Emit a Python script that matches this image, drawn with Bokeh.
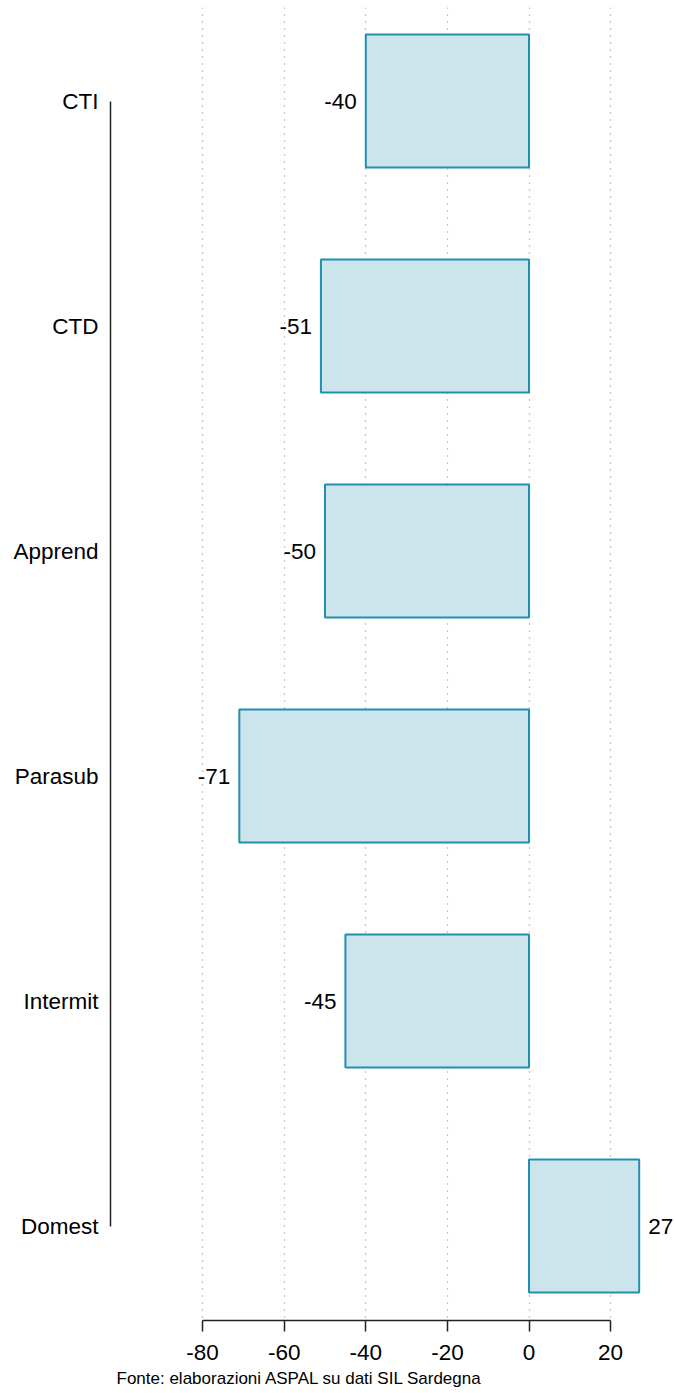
from bokeh.plotting import figure
from bokeh.models import Range1d, FixedTicker, ColumnDataSource, Title
from bokeh.embed import file_html
from bokeh.resources import INLINE
from bokeh.core.properties import value

# ---- data ----
categories = ["CTI", "CTD", "Apprend", "Parasub", "Intermit", "Domest"]
values = [-40, -51, -50, -71, -45, 27]
x_ticks = [-80, -60, -40, -20, 0, 20]
caption = "Fonte: elaborazioni ASPAL su dati SIL Sardegna"

FONT = "Liberation Sans"
positions = list(range(len(categories)))

p = figure(
    width=675, height=1393,
    output_backend="svg", toolbar_location=None,
    x_range=Range1d(-102.57, 35.9),
    y_range=Range1d(5.42, -0.4156),
    min_border_left=110, min_border_right=0,
    min_border_top=7, min_border_bottom=73,
)
p.outline_line_color = None
p.background_fill_color = "white"
p.border_fill_color = "white"

# grid
p.ygrid.visible = False
p.xgrid.ticker = FixedTicker(ticks=x_ticks)
p.xgrid.grid_line_color = "#8f8f8f"
p.xgrid.grid_line_dash = "1 6"
p.xgrid.grid_line_width = 1.3

# bars
bars = ColumnDataSource(dict(y=positions, right=values))
p.hbar(y="y", left=0, right="right", height=0.591, source=bars,
       fill_color="#CCE5EC", line_color="#2190AE", line_width=2)

# value labels
neg = ColumnDataSource(dict(
    x=[v for v in values if v < 0],
    y=[i for i, v in zip(positions, values) if v < 0],
    t=[str(v) for v in values if v < 0]))
pos = ColumnDataSource(dict(
    x=[v for v in values if v >= 0],
    y=[i for i, v in zip(positions, values) if v >= 0],
    t=[str(v) for v in values if v >= 0]))
p.text(x="x", y="y", text="t", source=neg, text_align="right", text_baseline="middle",
       x_offset=-9, text_font=value(FONT), text_font_size="22.5px", text_color="black")
p.text(x="x", y="y", text="t", source=pos, text_align="left", text_baseline="middle",
       x_offset=9, text_font=value(FONT), text_font_size="22.5px", text_color="black")

# x axis
xa = p.xaxis[0]
xa.ticker = FixedTicker(ticks=x_ticks)
xa.major_label_overrides = {t: str(t) for t in x_ticks}
xa.bounds = (x_ticks[0], x_ticks[-1])
xa.axis_line_color = "#222222"
xa.axis_line_width = 1.5
xa.major_tick_line_color = "#222222"
xa.major_tick_line_width = 1.5
xa.major_tick_out = 11
xa.major_tick_in = 0
xa.minor_tick_line_color = None
xa.major_label_standoff = 13
xa.major_label_text_font = FONT
xa.major_label_text_font_size = "22.5px"
xa.major_label_text_color = "black"

# y axis
ya = p.yaxis[0]
ya.ticker = FixedTicker(ticks=positions)
ya.major_label_overrides = {i: c for i, c in zip(positions, categories)}
ya.bounds = (positions[0], positions[-1])
ya.axis_line_color = "#222222"
ya.axis_line_width = 1.5
ya.major_tick_line_color = None
ya.major_tick_out = 0
ya.major_tick_in = 0
ya.minor_tick_line_color = None
ya.major_label_standoff = 12
ya.major_label_text_font = FONT
ya.major_label_text_font_size = "22.5px"
ya.major_label_text_color = "black"

# caption
p.add_layout(Title(text=caption, align="left", offset=6, standoff=9,
                   text_font=FONT, text_font_size="17px", text_font_style="normal",
                   text_color="black"), "below")

open("out.html", "w").write(file_html(p, INLINE))
